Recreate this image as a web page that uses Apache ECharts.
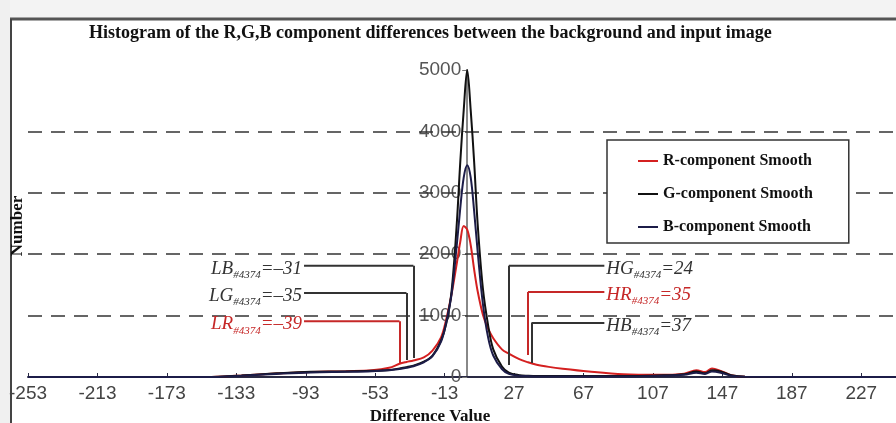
<!DOCTYPE html>
<html>
<head>
    <meta charset="utf-8" />
    <title>Histogram of the R,G,B component differences</title>
    <script src="https://cdn.jsdelivr.net/npm/echarts@6/dist/echarts.min.js"></script>
    <style>
        html, body { margin: 0; padding: 0; background: #f2f2f2; }
        #chart { width: 896px; height: 423px; }
    </style>
</head>
<body>
    <div id="chart"></div>
    <script type="text/javascript">
        // difference values (x) shared by the three smoothed histograms
        var diffs = [-253, -150, -130, -110, -90, -70, -55, -45, -39, -35, -31, -25, -20, -15, -12, -9, -6, -4, -2, 0,
            2, 4, 6, 9, 12, 15, 20, 24, 30, 35, 40, 47, 55, 70, 90, 110, 125, 132, 137, 141, 146, 152, 160, 247];
        var rCounts = [0, 0, 25, 55, 80, 95, 110, 150, 215, 245, 270, 320, 430, 650, 950, 1350, 1850, 2200, 2460, 2400,
            2150, 1750, 1400, 1020, 790, 630, 450, 380, 290, 240, 200, 165, 135, 90, 45, 35, 55, 110, 80, 140, 100, 30, 5, 0];
        var gCounts = [0, 0, 25, 60, 85, 90, 100, 115, 140, 160, 185, 250, 350, 600, 880, 1400, 2500, 3500, 4350, 5000,
            4350, 3500, 2500, 1450, 850, 450, 170, 70, 30, 20, 15, 15, 15, 15, 15, 25, 45, 90, 60, 110, 90, 30, 5, 0];
        var bCounts = [0, 0, 20, 50, 75, 85, 95, 110, 130, 150, 175, 240, 340, 580, 900, 1350, 2150, 2750, 3250, 3450,
            3250, 2700, 2050, 1200, 650, 350, 130, 50, 20, 15, 10, 10, 10, 10, 10, 20, 35, 70, 50, 90, 70, 20, 5, 0];

        var xTicks = [-253, -213, -173, -133, -93, -53, -13, 27, 67, 107, 147, 187, 227];
        var gridLevels = [1000, 2000, 3000, 4000];

        // threshold annotations
        var annNames = ['LB', 'LG', 'LR', 'HG', 'HR', 'HB'];
        var annValues = [-31, -35, -39, 24, 35, 37];
        var annLevels = [1810, 1370, 910, 1810, 1385, 880];
        var annTips = [310, 277, 228, 195, 358, 228];
        var annLabelX = [-94, -94, -94, 79, 79, 79];
        var annColors = ['#333333', '#333333', '#c62828', '#333333', '#c62828', '#333333'];

        var seriesNames = ['R-component Smooth', 'G-component Smooth', 'B-component Smooth'];
        var seriesColors = ['#d42020', '#111111', '#1c1c48'];

        function pairs(ys) {
            return diffs.map(function (x, i) { return [x, ys[i]]; });
        }

        var serif = 'Liberation Serif';
        var sans = 'Liberation Sans';
        var gridLeft = 28;

        var series = [rCounts, gCounts, bCounts].map(function (ys, i) {
            return {
                name: seriesNames[i],
                type: 'line',
                data: pairs(ys),
                smooth: 0.35,
                symbol: 'none',
                z: 3,
                lineStyle: { color: seriesColors[i], width: 2 },
                itemStyle: { color: seriesColors[i] }
            };
        });

        // dashed horizontal levels (carried by an invisible helper series)
        series.push({
            name: 'levels',
            type: 'line',
            data: [[0, 0]],
            symbol: 'none',
            lineStyle: { opacity: 0 },
            z: 1,
            markLine: {
                silent: true,
                z: 1,
                symbol: 'none',
                label: { show: false },
                lineStyle: { type: [14, 9], color: '#333', width: 1.5 },
                data: gridLevels.map(function (v) { return { yAxis: v }; })
            }
        });

        annNames.forEach(function (name, i) {
            var left = annValues[i] < 0;
            var col = annColors[i];
            var txt = '{m|' + name + '}{s|#4374}{m|=' + (annValues[i] < 0 ? '\u2013' : '') + Math.abs(annValues[i]) + '}';
            series.push({
                name: name,
                type: 'line',
                symbol: 'circle',
                symbolSize: 0,
                showSymbol: true,
                z: 4,
                lineStyle: { color: col, width: 2 },
                itemStyle: { color: col },
                data: [
                    {
                        value: [annLabelX[i], annLevels[i]],
                        label: {
                            show: true,
                            position: left ? 'left' : 'right',
                            distance: 2,
                            offset: [0, 3],
                            formatter: txt,
                            rich: {
                                m: { fontFamily: serif, fontStyle: 'italic', fontSize: 19, color: col, lineHeight: 24 },
                                s: { fontFamily: serif, fontStyle: 'italic', fontSize: 11, color: col, lineHeight: 8, verticalAlign: 'bottom' }
                            }
                        }
                    },
                    [annValues[i], annLevels[i]]
                ],
                markLine: {
                    silent: true,
                    z: 4,
                    symbol: ['none', 'arrow'],
                    symbolSize: [0, 8],
                    label: { show: false },
                    lineStyle: { type: 'solid', color: col, width: 2 },
                    data: [[{ coord: [annValues[i], annLevels[i]] }, { coord: [annValues[i], annTips[i]] }]]
                }
            });
        });

        var chart = echarts.init(document.getElementById('chart'));
        chart.setOption({
            backgroundColor: '#ffffff',
            animation: false,
            title: {
                text: 'Histogram of the R,G,B component differences between the background and input image',
                left: 84,
                top: 19,
                textStyle: { fontFamily: serif, fontWeight: 'bold', fontSize: 18, color: '#111' }
            },
            legend: {
                data: seriesNames,
                orient: 'vertical',
                left: 607,
                top: 140,
                z: 6,
                padding: [13, 36, 8, 30],
                itemWidth: 20,
                itemHeight: 14,
                itemGap: 17,
                itemStyle: { opacity: 0 },
                backgroundColor: '#ffffff',
                borderColor: '#333',
                borderWidth: 1.5,
                textStyle: { fontFamily: serif, fontWeight: 'bold', fontSize: 16, color: '#111', lineHeight: 14 }
            },
            grid: { left: gridLeft, right: 0, top: 70, bottom: 46, outerBoundsMode: 'none' },
            xAxis: {
                type: 'value',
                min: -253,
                max: 247,
                name: 'Difference Value',
                nameLocation: 'middle',
                nameGap: 28,
                nameTextStyle: { fontFamily: serif, fontWeight: 'bold', fontSize: 17, color: '#111', padding: [0, 64, 0, 0] },
                axisLine: { lineStyle: { color: '#2a2a44', width: 2 } },
                axisTick: { customValues: xTicks, inside: true, length: 4, lineStyle: { color: '#2a2a44' } },
                axisLabel: { customValues: xTicks, fontFamily: sans, fontSize: 19, color: '#444', margin: 7 },
                splitLine: { show: false }
            },
            yAxis: {
                type: 'value',
                min: 0,
                max: 5000,
                interval: 1000,
                axisLine: { show: true, onZero: false, lineStyle: { color: '#888', width: 2 } },
                axisTick: { show: true, length: 5, lineStyle: { color: '#777' } },
                axisLabel: {
                    fontFamily: sans, fontSize: 19, color: '#555', margin: 6,
                    formatter: function (v) { return String(v); }
                },
                splitLine: { show: false }
            },
            graphic: [
                { type: 'rect', shape: { x: 0, y: 0, width: 896, height: 18 }, style: { fill: '#f3f3f3' }, z: -10 },
                { type: 'rect', shape: { x: 0, y: 0, width: 10, height: 423 }, style: { fill: '#f0f0f0' }, z: -10 },
                { type: 'line', shape: { x1: 10, y1: 19, x2: 896, y2: 19 }, style: { stroke: '#555', lineWidth: 3 } },
                { type: 'line', shape: { x1: 11, y1: 19, x2: 11, y2: 423 }, style: { stroke: '#444', lineWidth: 2 } },
                {
                    type: 'text', x: 18, y: 226, rotation: Math.PI / 2,
                    style: { text: 'Number', fontFamily: serif, fontWeight: 'bold', fontSize: 17, fill: '#111', align: 'center', verticalAlign: 'middle' }
                }
            ],
            series: series
        });

        // move the y axis onto difference value 0
        var zeroX = chart.convertToPixel({ xAxisIndex: 0 }, 0);
        chart.setOption({ yAxis: { offset: gridLeft - zeroX } });
    </script>
</body>
</html>
